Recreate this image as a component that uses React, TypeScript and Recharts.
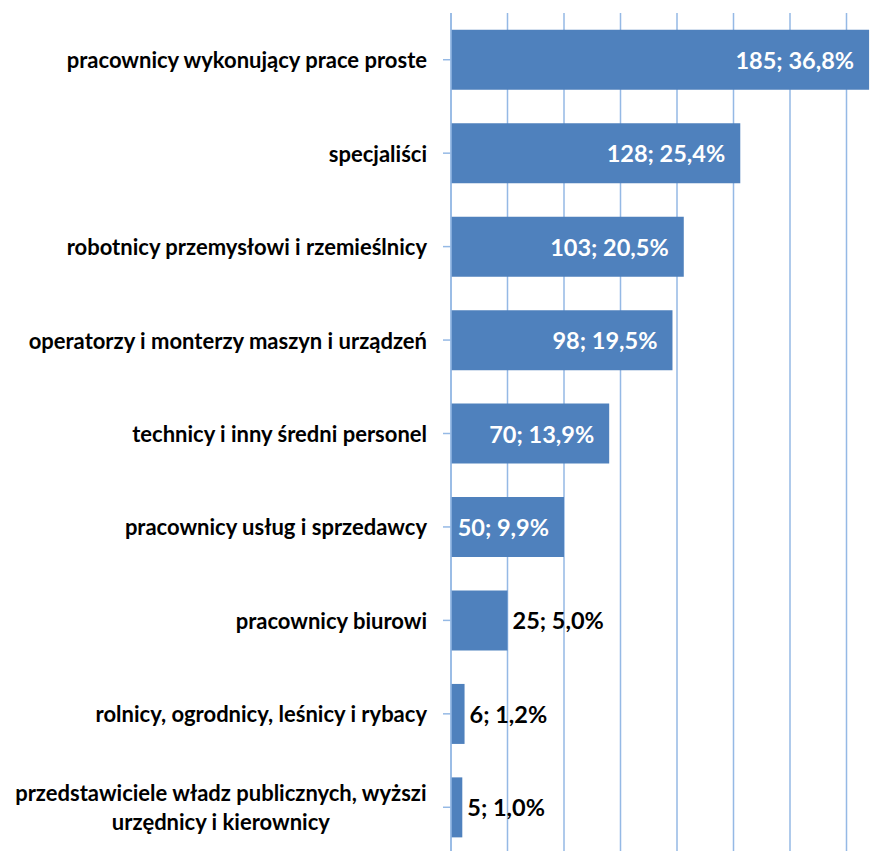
import { BarChart, Bar, XAxis, YAxis, CartesianGrid, LabelList } from "recharts";

const categories = [
  "pracownicy wykonujący prace proste",
  "specjaliści",
  "robotnicy przemysłowi i rzemieślnicy",
  "operatorzy i monterzy maszyn i urządzeń",
  "technicy i inny średni personel",
  "pracownicy usług i sprzedawcy",
  "pracownicy biurowi",
  "rolnicy, ogrodnicy, leśnicy i rybacy",
  "przedstawiciele władz publicznych, wyższi urzędnicy i kierownicy",
];
const counts = [185, 128, 103, 98, 70, 50, 25, 6, 5];
const shares = [36.8, 25.4, 20.5, 19.5, 13.9, 9.9, 5.0, 1.2, 1.0];
const xTicks = [0, 25, 50, 75, 100, 125, 150, 175, 200];

const FONT = "Lato, 'Open Sans', sans-serif";
const BAR_COLOR = "#4F81BD";
const GRID_COLOR = "#95B9E5";

const data = categories.map((name, i) => ({ name, count: counts[i], share: shares[i] }));

let ctx: CanvasRenderingContext2D | null = null;
function textWidth(s: string, font: string) {
  if (!ctx) ctx = document.createElement("canvas").getContext("2d");
  if (!ctx) return s.length * 10;
  ctx.font = font;
  return ctx.measureText(s).width;
}

function wrap(s: string, max: number) {
  const words = s.split(" ");
  const lines: string[] = [];
  let cur = "";
  for (const w of words) {
    const next = cur ? cur + " " + w : w;
    if (next.length > max && cur) {
      lines.push(cur);
      cur = w;
    } else cur = next;
  }
  if (cur) lines.push(cur);
  return lines;
}

const CategoryTick = (props: any) => {
  const { x, y, payload } = props;
  const fontSize = 22;
  const lines = wrap(payload.value, 42);
  const lh = 29;
  const font = `bold ${fontSize}px Lato`;
  const widths = lines.map((l) => textWidth(l, font));
  const maxW = Math.max(...widths);
  const cx = x - maxW / 2;
  return (
    <g>
      {lines.map((l, i) => (
        <text
          key={i}
          x={lines.length > 1 ? cx : x}
          y={y + (i - (lines.length - 1) / 2) * lh}
          textAnchor={lines.length > 1 ? "middle" : "end"}
          dominantBaseline="central"
          fontFamily={FONT}
          fontWeight="bold"
          fontSize={fontSize}
          fill="#000"
        >
          {l}
        </text>
      ))}
    </g>
  );
};

const ValueLabel = (props: any) => {
  const { x, y, width, height, value, index } = props;
  const txt = `${value}; ${shares[index].toFixed(1).replace(".", ",")}%`;
  const inside = value > 40;
  return (
    <text
      x={inside ? x + width - 15 : x + width + 5}
      y={y + height / 2}
      textAnchor={inside ? "end" : "start"}
      dominantBaseline="central"
      fontFamily={FONT}
      fontWeight="bold"
      fontSize={23.5}
      fill={inside ? "#fff" : "#000"}
    >
      {txt}
    </text>
  );
};

const NoTick = () => <g />;

export default function App() {
  return (
    <div style={{ position: "absolute", left: 0, top: 0, width: 886, height: 851, overflow: "hidden", background: "#fff" }}>
      <BarChart
        width={910}
        height={862}
        data={data}
        layout="vertical"
        margin={{ top: 13, right: 7, left: 0, bottom: 0 }}
        barCategoryGap="18%"
      >
        <CartesianGrid horizontal={false} stroke={GRID_COLOR} strokeWidth={1.5} />
        <XAxis
          type="number"
          domain={[0, 200]}
          ticks={xTicks}
          tick={<NoTick />}
          axisLine={false}
          tickLine={false}
          height={8}
        />
        <YAxis
          type="category"
          dataKey="name"
          width={451}
          tick={<CategoryTick />}
          tickSize={8}
          tickMargin={16}
          axisLine={{ stroke: GRID_COLOR, strokeWidth: 1.5 }}
          tickLine={{ stroke: GRID_COLOR, strokeWidth: 1.5 }}
          interval={0}
        />
        <Bar dataKey="count" fill={BAR_COLOR} isAnimationActive={false}>
          <LabelList dataKey="count" content={<ValueLabel />} />
        </Bar>
      </BarChart>
    </div>
  );
}
